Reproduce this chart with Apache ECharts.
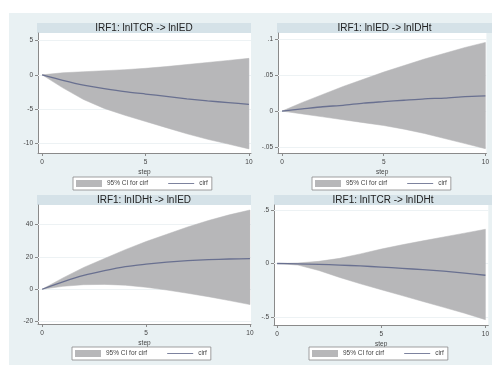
<!DOCTYPE html>
<html>
<head>
<meta charset="utf-8">
<script src="https://cdn.jsdelivr.net/npm/echarts@6/dist/echarts.min.js"></script>
<style>
html,body{margin:0;padding:0;background:#fff;}
#c{width:492px;height:367px;}
</style>
</head>
<body>
<div id="c"></div>
<script>
// ---- data ----
const steps = [0,1,2,3,4,5,6,7,8,9,10];
const xTicks = [0,5,10];

// Panel 1: IRF1: lnITCR -> lnIED
const title1 = 'IRF1: lnITCR -> lnIED';
const irf1 = [0,-0.8,-1.5,-2.0,-2.45,-2.8,-3.15,-3.5,-3.8,-4.05,-4.3];
const hi1  = [0,0.3,0.45,0.6,0.75,0.95,1.2,1.5,1.8,2.1,2.4];
const lo1  = [0,-1.9,-3.6,-4.9,-5.9,-6.8,-7.7,-8.6,-9.4,-10.1,-10.8];
const yTicks1 = [-10,-5,0,5];

// Panel 2: IRF1: lnIED -> lnIDHt
const title2 = 'IRF1: lnIED -> lnIDHt';
const irf2 = [0,0.003,0.006,0.008,0.011,0.013,0.015,0.017,0.018,0.020,0.021];
const hi2  = [0,0.012,0.023,0.034,0.044,0.054,0.063,0.072,0.080,0.088,0.095];
const lo2  = [0,-0.004,-0.008,-0.012,-0.016,-0.020,-0.025,-0.031,-0.038,-0.045,-0.052];
const yTicks2 = [-0.05,0,0.05,0.1];

// Panel 3: IRF1: lnIDHt -> lnIED
const title3 = 'IRF1: lnIDHt -> lnIED';
const irf3 = [0,4.5,8.5,11.5,14,15.5,16.8,17.7,18.3,18.7,18.9];
const hi3  = [0,7,13.5,19,24.5,29.5,34,38.5,42.5,46,49];
const lo3  = [0,1.8,2.8,3.0,2.5,1.2,-0.5,-2.5,-4.6,-7,-9.5];
const yTicks3 = [-20,0,20,40];

// Panel 4: IRF1: lnITCR -> lnIDHt
const title4 = 'IRF1: lnITCR -> lnIDHt';
const irf4 = [0,-0.003,-0.008,-0.015,-0.023,-0.033,-0.045,-0.058,-0.072,-0.09,-0.11];
const hi4  = [0,0.005,0.02,0.048,0.09,0.135,0.175,0.212,0.248,0.284,0.32];
const lo4  = [0,-0.015,-0.065,-0.13,-0.19,-0.245,-0.3,-0.355,-0.41,-0.465,-0.525];
const yTicks4 = [-0.5,0,0.5];

const ciName = '95% CI for cirf';
const lineName = 'cirf';

// ---- layout / style ----
const FONT = 'Liberation Sans, Arial, sans-serif';
const BG = '#e9f1f3';
const BAR = '#d5e2e8';
const BAND = '#b7b7b9';
const LINE = '#697090';
const AXIS = '#8a8a8a';
const TXT = '#444';

const panels = [
  {title:title1, irf:irf1, hi:hi1, lo:lo1, yt:yTicks1, grid:{left:38, top:33, width:213, height:120}, x:[-0.2,10.1], y:[-11.4,6.1], bar:[37,23,214,10], leg:[73,177]},
  {title:title2, irf:irf2, hi:hi2, lo:lo2, yt:yTicks2, grid:{left:278, top:33, width:213, height:120}, x:[-0.2,10.05], y:[-0.058,0.108], bar:[277,23,215,10], leg:[312,177]},
  {title:title3, irf:irf3, hi:hi3, lo:lo3, yt:yTicks3, grid:{left:38, top:205, width:213, height:119}, x:[-0.2,10.05], y:[-21.5,52.1], bar:[37,195,214,10], leg:[72,347]},
  {title:title4, irf:irf4, hi:hi4, lo:lo4, yt:yTicks4, grid:{left:274, top:205, width:216, height:120}, x:[-0.15,10.14], y:[-0.575,0.547], bar:[274,195,218,10], leg:[309,347]}
];

const fmt = v => String(+v.toFixed(4)).replace(/^(-?)0\./, '$1.');

const grid = [], xAxis = [], yAxis = [], series = [], legend = [], title = [];
const graphic = [{type:'rect', shape:{x:9, y:13, width:483, height:352}, style:{fill:BG}, z:-20, silent:true}];

function bandRenderer(p) {
  return function (params, api) {
    if (params.dataIndex !== 0) return null;
    const upper = steps.map((s, k) => api.coord([s, p.hi[k]]));
    const lower = steps.map((s, k) => api.coord([s, p.lo[k]])).reverse();
    return {type:'polygon', shape:{points: upper.concat(lower), smooth:0},
      style:{fill:BAND, stroke:BAND, lineWidth:0.5}, silent:true};
  };
}

panels.forEach((p, i) => {
  grid.push(Object.assign({show:true, backgroundColor:'#fff', borderWidth:0}, p.grid));
  graphic.push({type:'rect', shape:{x:p.bar[0], y:p.bar[1], width:p.bar[2], height:p.bar[3]}, style:{fill:BAR}, z:-10, silent:true});
  title.push({text:p.title, left:p.bar[0] + p.bar[2]/2, top:p.bar[1] - 0.5, textAlign:'center',
    padding:0, textStyle:{fontFamily:FONT, fontSize:10, fontWeight:'normal', color:'#222', lineHeight:11}});
  xAxis.push({type:'value', gridIndex:i, min:p.x[0], max:p.x[1], name:'step', nameLocation:'middle', nameGap:16,
    nameTextStyle:{fontFamily:FONT, fontSize:6.5, color:TXT},
    axisLine:{onZero:false, lineStyle:{color:AXIS, width:1}},
    axisTick:{customValues:xTicks, length:3, lineStyle:{color:AXIS}},
    axisLabel:{customValues:xTicks, margin:6, fontFamily:FONT, fontSize:6.5, color:TXT, formatter:fmt},
    splitLine:{show:false}});
  yAxis.push({type:'value', gridIndex:i, min:p.y[0], max:p.y[1],
    axisLine:{show:true, onZero:false, lineStyle:{color:AXIS, width:1}},
    axisTick:{show:true, customValues:p.yt, length:3, lineStyle:{color:AXIS}},
    axisLabel:{customValues:p.yt, margin:5, fontFamily:FONT, fontSize:6.5, color:TXT, formatter:fmt},
    splitLine:{show:false}});
  series.push({name:ciName, type:'custom', xAxisIndex:i, yAxisIndex:i,
    data:steps.map((s, k) => [s, p.lo[k], p.hi[k]]), encode:{x:0, y:[1,2]},
    renderItem:bandRenderer(p), itemStyle:{color:BAND}, silent:true, z:2});
  series.push({name:lineName, type:'line', xAxisIndex:i, yAxisIndex:i,
    data:steps.map((s, k) => [s, p.irf[k]]), symbol:'none', smooth:0.2, lineStyle:{color:LINE, width:1.3},
    itemStyle:{color:LINE}, silent:true, z:3,
    markLine:{silent:true, symbol:'none', label:{show:false}, lineStyle:{color:'#edf2f4', width:1, type:'solid'},
      z:1, data:p.yt.map(v => ({yAxis:v}))}});
  legend.push({left:p.leg[0], top:p.leg[1], orient:'horizontal', padding:[3,4,3,3], itemGap:20,
    itemWidth:26, itemHeight:7, borderColor:'#888', borderWidth:0.8, backgroundColor:'#fff',
    selectedMode:false, textStyle:{fontFamily:FONT, fontSize:6.5, color:TXT},
    data:[{name:ciName, icon:'rect', itemStyle:{color:BAND}},
          {name:lineName, icon:'path://M0,0H30V1H0Z', itemStyle:{color:LINE}}]});
});

const chart = echarts.init(document.getElementById('c'), null, {renderer:'canvas'});
chart.setOption({backgroundColor:'#fff', animation:false, title, grid, xAxis, yAxis, series, legend, graphic});
</script>
</body>
</html>
